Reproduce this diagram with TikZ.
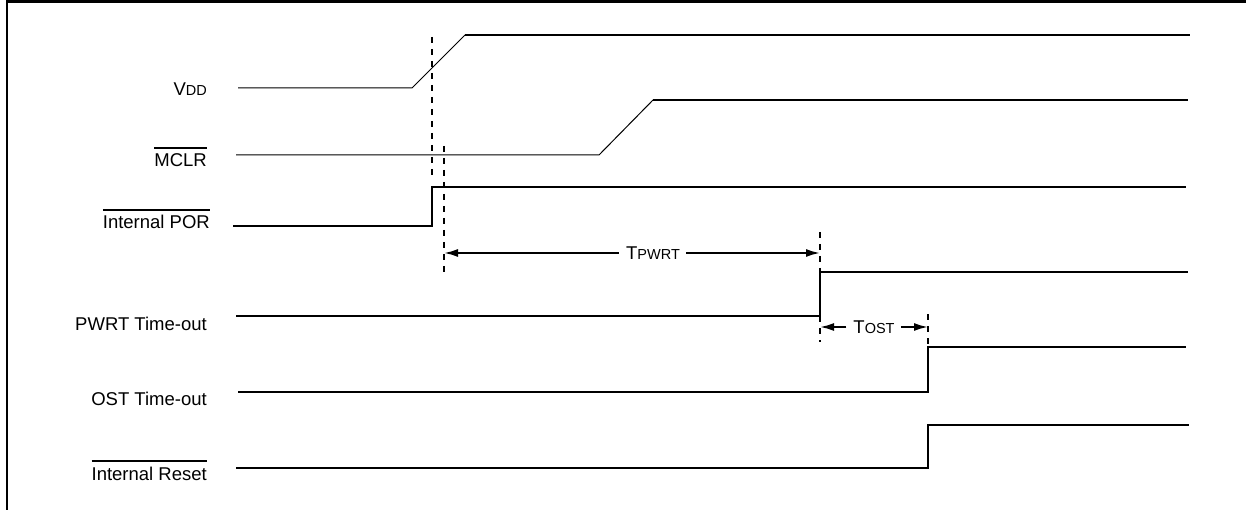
\documentclass[tikz,border=0pt]{standalone}
\usepackage{fontspec}
\setmainfont{Liberation Sans}
\usetikzlibrary{arrows.meta}
\newcommand{\bigsz}{\fontsize{18.5pt}{20pt}\selectfont}
\newcommand{\smsz}{\fontsize{14.5pt}{16pt}\selectfont}
\newcommand{\ovl}[1]{\leavevmode\vbox{\hrule height 1.6pt\kern 5pt\hbox{#1}}}
\begin{document}
\begin{tikzpicture}[x=1pt,y=-1pt,
  lbl/.style={anchor=east,inner sep=0pt,font=\bigsz},
  thin/.style={line width=1pt},
  wave/.style={line width=2pt},
  vdash/.style={line width=2pt,dash pattern=on 6pt off 6pt},
  dim/.style={line width=2pt,-{Latex[length=14pt,width=8pt]}},
  tlbl/.style={inner sep=0pt,font=\bigsz}]
\useasboundingbox (0,0) rectangle (1246,510);
\draw[line width=2.5pt] (7,0) -- (7,510);
\draw[line width=2.5pt] (6,1.5) -- (1246,1.5);
% labels
\node[lbl] (lvdd) at (207,89) {V\smsz DD};
\node[lbl,anchor=base east] (lmclr) at (207,167) {\ovl{MCLR}};
\node[lbl,anchor=base east] (lpor) at (210,229) {\ovl{Internal POR}};
\node[lbl] (lpwrt) at (207,324) {PWRT Time-out};
\node[lbl] (lost) at (207,399) {OST Time-out};
\node[lbl,anchor=base east] (lrst) at (207,480) {\ovl{Internal Reset}};
% waveforms
\draw[thin] (238,88) -- (412,88) -- (465,35);
\draw[wave] (465,35) -- (1190,35);
\draw[thin] (236,155) -- (599,155) -- (653,100);
\draw[wave] (653,100) -- (1188,100);
\draw[wave] (233,226) -- (432,226) -- (432,187) -- (1186,187);
\draw[wave] (236,316) -- (820,316) -- (820,272) -- (1188,272);
\draw[wave] (238,392) -- (928,392) -- (928,347) -- (1186,347);
\draw[wave] (236,468) -- (928,468) -- (928,425) -- (1189,425);
% dashed markers
\draw[vdash] (432,37) -- (432,176);
\draw[vdash] (444,146) -- (444,276);
\draw[vdash] (820,232) -- (820,342);
\draw[vdash] (928,314) -- (928,345);
% timing
\coordinate (pa) at (444,253);
\coordinate (pb) at (820,253);
\node[tlbl] (tpwrt) at (653,253) {T\smsz PWRT};
\draw[dim] (tpwrt.west) ++(-7,0) -- (pa);
\draw[dim] (tpwrt.east) ++(6,0) -- (pb);
\coordinate (oa) at (820,327);
\coordinate (ob) at (928,327);
\node[tlbl] (tost) at (874,327) {T\smsz OST};
\draw[dim] (tost.west) ++(-7,0) -- (oa);
\draw[dim] (tost.east) ++(6,0) -- (ob);
\end{tikzpicture}
\end{document}
